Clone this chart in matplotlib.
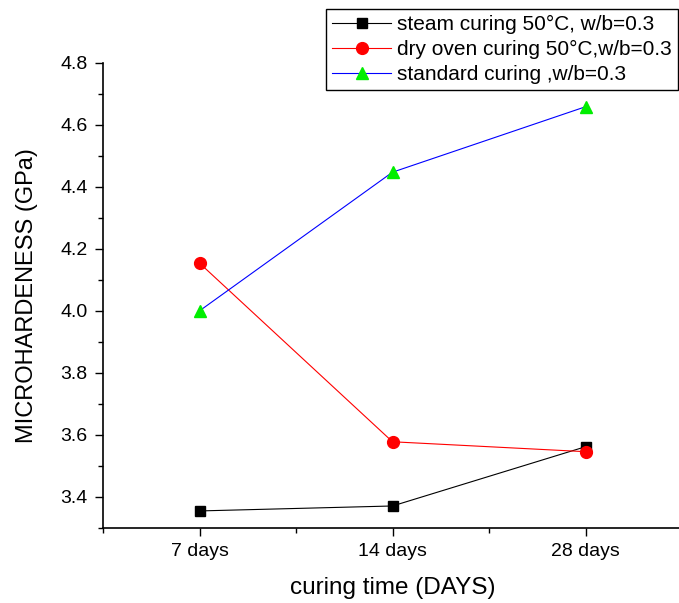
import numpy as np
import matplotlib.pyplot as plt
from matplotlib.ticker import MultipleLocator, FixedLocator

plt.rcParams['font.family'] = ['Liberation Sans', 'DejaVu Sans']

days = ['7 days', '14 days', '28 days']
steam = [3.355, 3.371, 3.562]
dry_oven = [4.154, 3.578, 3.546]
standard = [4.000, 4.447, 4.658]

x = np.arange(1, len(days) + 1)

fig = plt.figure(figsize=(6.79, 6.03), dpi=100)
ax = fig.add_axes([103 / 679, 1 - 528 / 603, 579 / 679, (528 - 62.7) / 603])

ax.plot(x, steam, 'k-', marker='s', ms=7.5, lw=0.8, label='steam curing 50°C, w/b=0.3')
ax.plot(x, dry_oven, '-', color='red', marker='o', ms=8.5, lw=0.8,
        label='dry oven curing 50°C,w/b=0.3')
ax.plot(x, standard, '-', color='blue', marker='^', ms=9, lw=0.8,
        mfc='#00ee00', mec='#00ee00', label='standard curing ,w/b=0.3')

ax.set_xlim(0.5, 3.5)
ax.set_ylim(3.3, 4.8)
ax.set_xticks(x)
ax.set_xticklabels(days)
ax.xaxis.set_minor_locator(FixedLocator([0.5, 1.5, 2.5, 3.5]))
ax.yaxis.set_major_locator(MultipleLocator(0.2))
ax.yaxis.set_minor_locator(MultipleLocator(0.1))
ax.tick_params(which='major', direction='out', length=6, width=1, labelsize=14, pad=5)
ax.tick_params(which='minor', direction='out', length=3.5, width=1)
ax.spines['top'].set_visible(False)
ax.spines['right'].set_visible(False)
ax.spines['left'].set_linewidth(1.2)
ax.spines['bottom'].set_linewidth(1.2)

ax.set_xlabel('curing time (DAYS)', fontsize=17.5, labelpad=12)
ax.set_ylabel('MICROHARDENESS (GPa)', fontsize=17, labelpad=16)

leg = fig.legend(loc='upper right', bbox_to_anchor=(678 / 679, 1 - 9 / 603), fontsize=15,
                 frameon=True, fancybox=False, framealpha=1, edgecolor='black',
                 borderpad=0.3, labelspacing=0.28, handlelength=2.8, handletextpad=0.3,
                 borderaxespad=0)
leg.get_frame().set_linewidth(1)

fig.savefig('out.png', dpi=100)
